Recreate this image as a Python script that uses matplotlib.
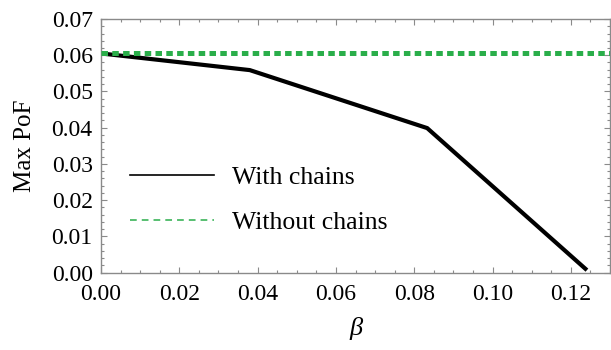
import matplotlib
matplotlib.use("Agg")
import matplotlib.pyplot as plt
from matplotlib.ticker import MultipleLocator, FormatStrFormatter
from matplotlib.lines import Line2D

# Data
beta_with = [0.0, 0.038, 0.0833, 0.1241]
pof_with = [0.0605, 0.0559, 0.0399, 0.0007]
pof_without = 0.0607
x_limits = [0.0, 0.13]
y_limits = [0.0, 0.07]
labels = ["With chains", "Without chains"]

plt.rcParams['font.family'] = ['Liberation Serif', 'DejaVu Serif']

fig = plt.figure(figsize=(6.11, 3.5), dpi=100)
ax = fig.add_axes([0.1653, 0.2209, 0.8331, 0.7248])

green = '#2aae4a'
ax.axhline(pof_without, color=green, lw=3.6, dashes=(1.3, 0.86),
           dash_capstyle='butt', zorder=3)
ax.plot(beta_with, pof_with, color='black', lw=3.0, solid_joinstyle='miter',
        solid_capstyle='butt', zorder=2)

ax.set_xlim(*x_limits)
ax.set_ylim(*y_limits)
ax.xaxis.set_major_locator(MultipleLocator(0.02))
ax.xaxis.set_minor_locator(MultipleLocator(0.005))
ax.yaxis.set_major_locator(MultipleLocator(0.01))
ax.yaxis.set_minor_locator(MultipleLocator(0.002))
ax.xaxis.set_major_formatter(FormatStrFormatter('%.2f'))
ax.yaxis.set_major_formatter(FormatStrFormatter('%.2f'))

for s in ax.spines.values():
    s.set_color('#8a8a8a')
    s.set_linewidth(1.0)
ax.tick_params(which='both', direction='in', top=True, right=True,
               color='#8a8a8a', labelsize=17, labelcolor='black', width=0.8)
ax.tick_params(which='major', length=4, pad=6)
ax.tick_params(which='minor', length=2)
ax.tick_params(axis='x', which='major', pad=8)

ax.set_xlabel('β', fontsize=19, fontstyle='italic', labelpad=9)
ax.set_ylabel('Max PoF', fontsize=18, labelpad=11)

handles = [Line2D([], [], color='black', lw=1.2),
           Line2D([], [], color=green, lw=1.1, dashes=(4.4, 3.3))]
leg = ax.legend(handles, labels, loc='upper left', bbox_to_anchor=(0.057, 0.42),
                frameon=False, fontsize=18.5, handlelength=3.27, handletextpad=0.7,
                labelspacing=0.86, borderpad=0, borderaxespad=0)

fig.savefig('out.png', dpi=100)
